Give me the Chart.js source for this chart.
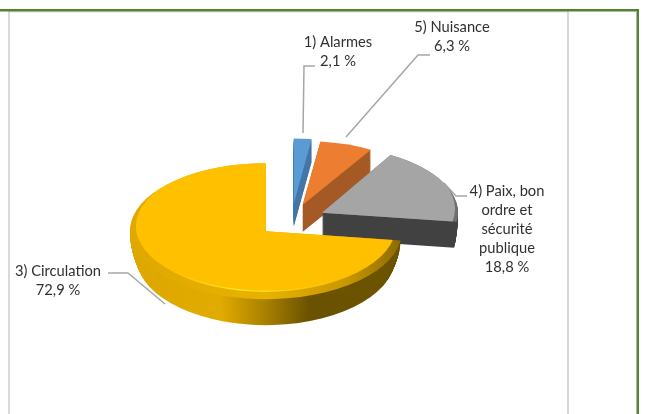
<!DOCTYPE html>
<html lang="fr">
<head>
    <meta charset="utf-8">
    <title>Répartition</title>
    <style>
        html, body { margin: 0; padding: 0; background: #fff; }
        #wrap { width: 645px; height: 414px; }
        #myChart { filter: blur(0.35px); }
    </style>
</head>
<body>
    <div id="wrap"><canvas id="myChart" width="645" height="414"></canvas></div>
    <script src="https://cdn.jsdelivr.net/npm/chart.js"></script>
    <script>
        // data, clockwise from the top
        const categories = ['1) Alarmes', '5) Nuisance', '4) Paix, bon ordre et sécurité publique', '3) Circulation'];
        const values = [2.1, 6.3, 18.8, 72.9];

        // 3d look of each slice
        const topColors = ['#5B9BD5', '#ED7D31', '#A5A5A5', '#FFC000'];
        const sideColors = ['#4576A8', '#A55A25', '#424242', '#6B5200'];
        const tilts = [0.48, 0.47, 0.49, 0.5];
        const depths = [23, 27, 26, 26];
        const sideShrink = [0, 0, 0.02, 0.05];
        const drawOrder = [0, 1, 2, 3];

        // where the labels go: text centre, first line y, wrap width, leader line
        const labelSpots = [
            { x: 338, y: 42, wrap: 90, line: [[303, 133], [304, 66], [315, 66]] },
            { x: 452, y: 27, wrap: 90, line: [[346, 137], [418, 55], [430, 55]] },
            { x: 507, y: 191, wrap: 84, line: [[444, 183], [456, 196], [467, 196]] },
            { x: 58, y: 271, wrap: 100, line: [[108, 273], [128, 273], [165, 304]] }
        ];

        const wrapText = (ctx, text, width) => {
            const lines = [];
            let current = '';
            text.split(' ').forEach(word => {
                const test = current ? current + ' ' + word : word;
                if (current && ctx.measureText(test).width > width) {
                    lines.push(current);
                    current = word;
                } else {
                    current = test;
                }
            });
            lines.push(current);
            return lines;
        };

        const slicePath = (ctx, x, y, r, start, end) => {
            ctx.beginPath();
            ctx.moveTo(x, y);
            ctx.arc(x, y, r, start, end);
            ctx.closePath();
        };

        // frame behind the chart
        const framePlugin = {
            id: 'frame',
            beforeDraw(chart) {
                const ctx = chart.ctx;
                ctx.save();
                ctx.fillStyle = '#D9D9D9';
                ctx.fillRect(8, 11, 2, 403);
                ctx.fillRect(567, 11, 2, 403);
                ctx.fillStyle = '#EEEEEE';
                ctx.fillRect(10, 11, 557, 2);
                ctx.fillStyle = '#548235';
                ctx.fillRect(0, 9, 639, 2.5);
                ctx.fillRect(636.5, 9, 2.5, 405);
                ctx.restore();
            }
        };

        // tilts the arcs of the pie and gives them a thickness
        const pie3dPlugin = {
            id: 'pie3d',
            beforeDatasetsDraw(chart) {
                const ctx = chart.ctx;
                const arcs = chart.getDatasetMeta(0).data;
                drawOrder.forEach(i => {
                    const arc = arcs[i];
                    const { x, y, startAngle, endAngle, outerRadius } = arc.getProps(['x', 'y', 'startAngle', 'endAngle', 'outerRadius'], true);
                    const mid = (startAngle + endAngle) / 2;
                    const off = arc.options.offset;
                    const k = tilts[i];
                    const px = x + Math.cos(mid) * off;
                    const py = y + Math.sin(mid) * off * k;

                    ctx.save();
                    ctx.translate(px, py);
                    ctx.scale(1, k);

                    // side, a bit narrower towards the bottom
                    let side = sideColors[i];
                    if (i === 3) {
                        side = ctx.createLinearGradient(-outerRadius, 0, outerRadius, 0);
                        side.addColorStop(0, '#DDA700');
                        side.addColorStop(0.33, '#E2AB00');
                        side.addColorStop(0.5, '#A88000');
                        side.addColorStop(0.66, '#6B5200');
                        side.addColorStop(1, '#6B5300');
                    }
                    ctx.fillStyle = side;
                    for (let d = depths[i]; d > 0; d--) {
                        const t = d / depths[i];
                        ctx.save();
                        ctx.scale(1 - sideShrink[i] * t * t, 1);
                        slicePath(ctx, 0, d / k, outerRadius, startAngle, endAngle);
                        ctx.fill();
                        ctx.restore();
                    }

                    // top with a rim
                    if (i === 3 || i === 2) {
                        const rim = ctx.createLinearGradient(-outerRadius, 0, outerRadius, 0);
                        if (i === 3) {
                            rim.addColorStop(0, '#E0A800');
                            rim.addColorStop(0.5, '#E8B200');
                            rim.addColorStop(0.8, '#C89600');
                            rim.addColorStop(1, '#8A6A00');
                        } else {
                            rim.addColorStop(0, '#8C8C8C');
                            rim.addColorStop(1, '#6E6E6E');
                        }
                        ctx.fillStyle = rim;
                        slicePath(ctx, 0, 0, outerRadius, startAngle, endAngle);
                        ctx.fill();
                        ctx.save();
                        slicePath(ctx, 0, 0, outerRadius, startAngle, endAngle);
                        ctx.clip();
                        ctx.fillStyle = topColors[i];
                        ctx.beginPath();
                        if (i === 3) {
                            ctx.arc(0, -10, outerRadius - 6, 0, Math.PI * 2);
                        } else {
                            ctx.arc(-1, -8, outerRadius - 2, 0, Math.PI * 2);
                        }
                        ctx.fill();
                        if (i === 3) {
                            const glow = ctx.createLinearGradient(-outerRadius, 0, outerRadius, 0);
                            glow.addColorStop(0.15, 'rgba(255,224,32,0)');
                            glow.addColorStop(0.4, 'rgba(255,232,40,1)');
                            glow.addColorStop(0.6, 'rgba(255,224,32,0.6)');
                            glow.addColorStop(0.8, 'rgba(255,224,32,0)');
                            ctx.strokeStyle = glow;
                            ctx.lineWidth = 3;
                            ctx.stroke();
                        }
                        ctx.restore();
                    } else {
                        ctx.fillStyle = topColors[i];
                        slicePath(ctx, 0, 0, outerRadius, startAngle, endAngle);
                        ctx.fill();
                    }
                    ctx.restore();
                });
                return false;
            },
            afterDraw(chart) {
                const ctx = chart.ctx;
                ctx.save();
                labelSpots.forEach((spot, i) => {
                    ctx.strokeStyle = '#A6A6A6';
                    ctx.lineWidth = 1.5;
                    ctx.beginPath();
                    spot.line.forEach((p, j) => j ? ctx.lineTo(p[0], p[1]) : ctx.moveTo(p[0], p[1]));
                    ctx.stroke();

                    ctx.font = '14.7px Lato';
                    ctx.fillStyle = '#303030';
                    ctx.textAlign = 'center';
                    ctx.textBaseline = 'middle';
                    const lines = wrapText(ctx, categories[i], spot.wrap);
                    lines.push(values[i].toFixed(1).replace('.', ',') + ' %');
                    lines.forEach((text, j) => ctx.fillText(text, spot.x, spot.y + j * 19));
                });
                ctx.restore();
            }
        };

        new Chart(document.getElementById('myChart'), {
            type: 'pie',
            data: {
                labels: categories,
                datasets: [{
                    data: values,
                    backgroundColor: topColors,
                    offset: 34,
                    borderWidth: 0
                }]
            },
            options: {
                responsive: false,
                animation: false,
                radius: 136,
                layout: { padding: { top: 26, right: 62 } },
                plugins: {
                    legend: { display: false },
                    tooltip: { enabled: false }
                }
            },
            plugins: [framePlugin, pie3dPlugin]
        });
    </script>
</body>
</html>
